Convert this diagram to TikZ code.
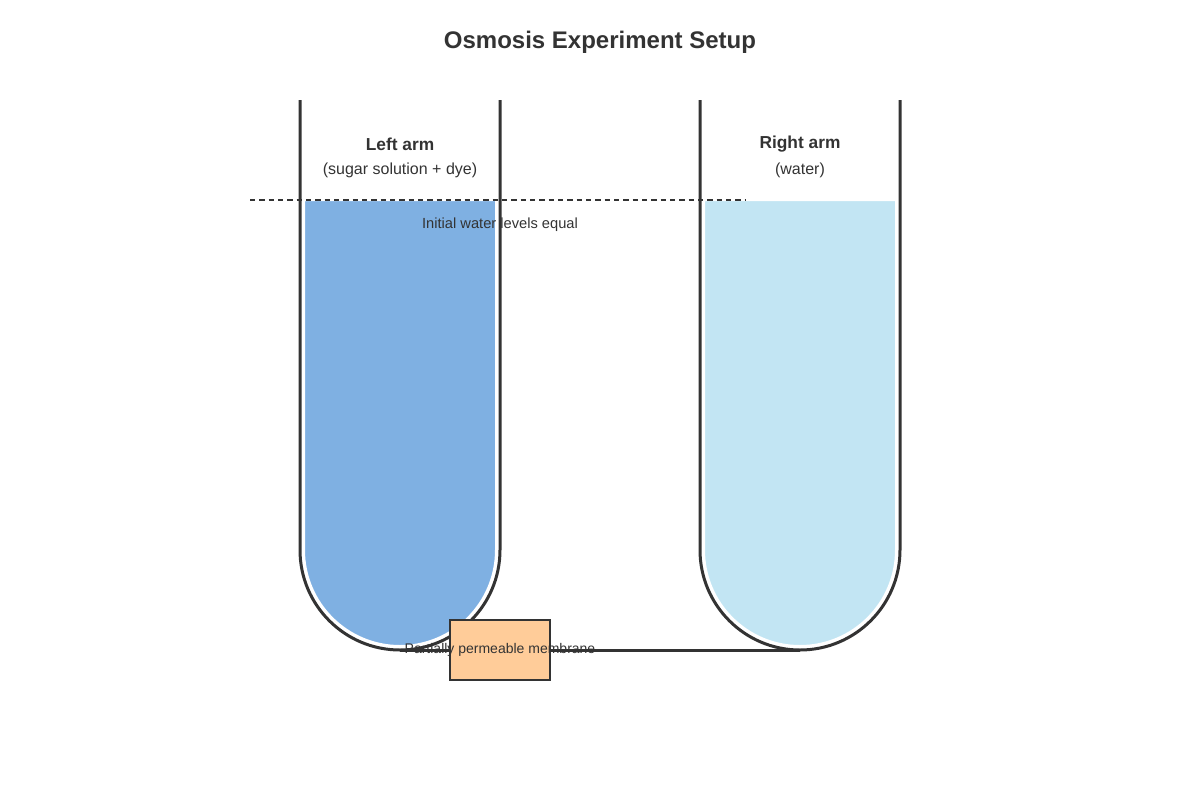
\documentclass[tikz,border=0pt]{standalone}
\usepackage{fontspec}
\setmainfont{Liberation Sans}
\begin{document}
\begin{tikzpicture}[x=0.75pt,y=-0.75pt,
  wall/.style={draw=ink,line width=3pt*0.75},
  lbl/.style={text=ink,font=\fontsize{12}{14}\selectfont}]
\definecolor{ink}{HTML}{333333}
\definecolor{sugar}{HTML}{7FB0E2}
\definecolor{water}{HTML}{C2E5F3}
\definecolor{memb}{HTML}{FFCC99}
\useasboundingbox (0,0) rectangle (1200,800);
\node[text=ink,font=\bfseries\fontsize{18}{22}\selectfont] (title) at (600,42) {Osmosis Experiment Setup};
% fills
\path[fill=sugar,draw=white,line width=1.5pt] (304,200) -- (304,550) arc[start angle=180,end angle=360,x radius=96,y radius=-96] -- (496,200) -- cycle;
\path[fill=water,draw=white,line width=1.5pt] (704,200) -- (704,550) arc[start angle=180,end angle=360,x radius=96,y radius=-96] -- (896,200) -- cycle;
\draw[dash pattern=on 4pt off 3pt,ink,line width=0.9pt] (250,200) coordinate (d1) -- (745,200) coordinate (d2);
% tubes
\draw[wall] (300,100) -- (300,550) arc[start angle=180,end angle=360,x radius=100,y radius=-100] -- (500,100);
\draw[wall] (700,100) -- (700,550) arc[start angle=180,end angle=360,x radius=100,y radius=-100] -- (900,100);
\draw[wall] (400,650) coordinate (b1) -- (800,650) coordinate (b2);
\node[draw=ink,line width=1.5pt,fill=memb,minimum width=100*0.75pt,minimum height=60*0.75pt,inner sep=0pt] (mem) at (500,650) {};
\node[lbl,font=\fontsize{10.5}{12}\selectfont] (memt) at (500,650) {Partially permeable membrane};
\node[lbl,font=\fontsize{11}{13}\selectfont] (init) at (500,225) {Initial water levels equal};
\node[lbl,font=\bfseries\fontsize{13}{15}\selectfont] (la) at (400,144) {Left arm};
\node[lbl] (las) at (400,170) {(sugar solution + dye)};
\node[lbl,font=\bfseries\fontsize{13}{15}\selectfont] (ra) at (800,144) {Right arm};
\node[lbl] (ras) at (800,170) {(water)};
\end{tikzpicture}
\end{document}
